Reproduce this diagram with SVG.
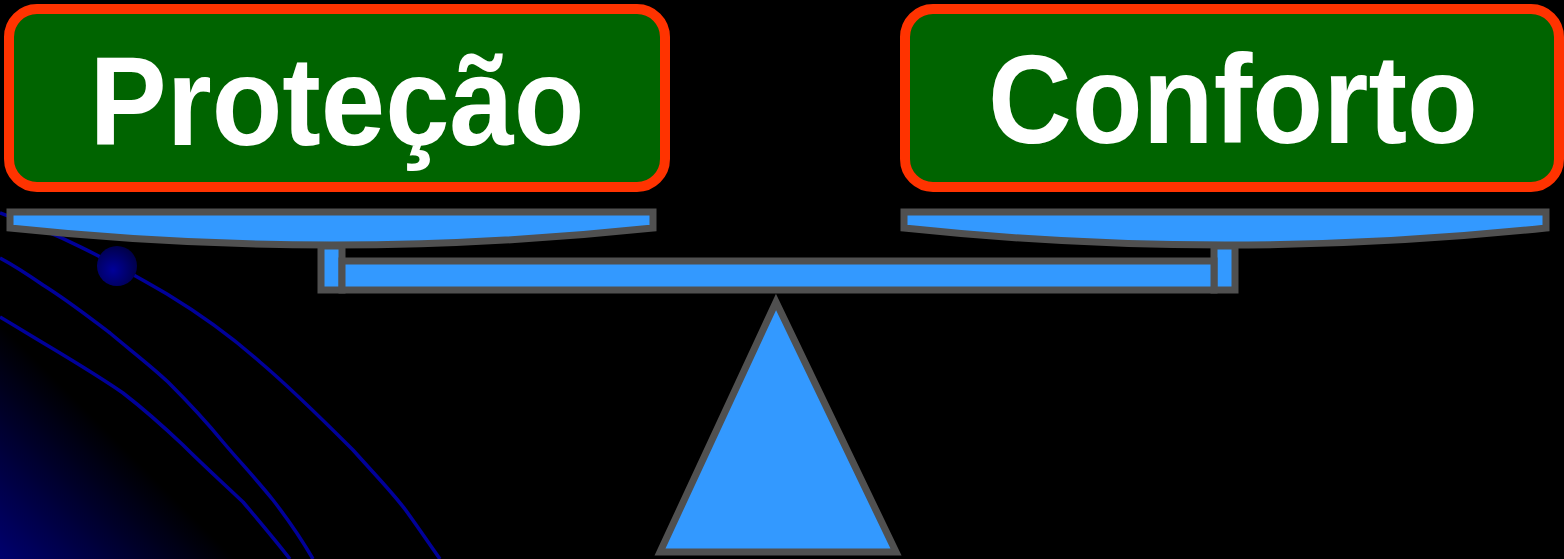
<svg xmlns="http://www.w3.org/2000/svg" width="1564" height="559" viewBox="0 0 1564 559">
<defs>
<linearGradient id="corner" gradientUnits="userSpaceOnUse" x1="0" y1="559" x2="118" y2="441">
<stop offset="0" stop-color="#00006e"/>
<stop offset="1" stop-color="#000000"/>
</linearGradient>
<radialGradient id="ball" cx="0.4" cy="0.6" r="0.7">
<stop offset="0" stop-color="#000099"/>
<stop offset="1" stop-color="#000040"/>
</radialGradient>
<style>
.box{fill:#006400;stroke:#ff3300;stroke-width:10}
.lbl{font-family:"Liberation Sans",Arial,sans-serif;font-weight:bold;font-size:126px;fill:#ffffff;text-anchor:middle}
.part{fill:#3399ff;stroke:#505050;stroke-width:7;stroke-linejoin:miter}
.orb{fill:none;stroke:#000099;stroke-width:3.5}
</style>
</defs>
<rect x="0" y="0" width="1564" height="559" fill="#000000"/>
<g id="background">
<polygon points="0,320 0,559 240,559" fill="url(#corner)"/>
<path class="orb" d="M0,213 C60,235 100,255 167,294 C200,314 233,338 260,362 C293,390 323,420 353,450 C378,478 395,495 407,512 C420,530 430,545 440,559"/>
<path class="orb" d="M0,258 C15,266 30,276 43,285 C70,302 90,318 110,333 C130,350 150,365 168,382 C188,402 205,420 223,442 C240,462 257,480 273,500 C290,522 302,540 313,559"/>
<path class="orb" d="M0,317 C17,327 33,337 50,347 C75,362 100,377 123,393 C145,410 165,428 183,445 C203,465 223,483 243,502 C260,522 275,540 290,559"/>
<circle cx="117" cy="266" r="20" fill="url(#ball)"/>
</g>
<g id="node-protecao">
<rect class="box" x="9" y="9" width="656" height="178" rx="28"/>
<text class="lbl" x="337" y="145" textLength="495" lengthAdjust="spacingAndGlyphs">Proteção</text>
</g>
<g id="node-conforto">
<rect class="box" x="905" y="9" width="654" height="178" rx="28"/>
<text class="lbl" x="1233" y="143" textLength="490" lengthAdjust="spacingAndGlyphs">Conforto</text>
</g>
<g id="scale">
<rect class="part" x="321" y="246" width="21" height="44"/>
<rect class="part" x="1214" y="246" width="21" height="44"/>
<rect class="part" x="342" y="261" width="872" height="29"/>
<path class="part" d="M10,212 L653,212 L653,228 Q332,262 10,228 Z"/>
<path class="part" d="M904,212 L1546,212 L1546,228 Q1225,262 904,228 Z"/>
<polygon class="part" points="776,302 660,552 896,552"/>
</g>
<g id="connectors"/>
</svg>
